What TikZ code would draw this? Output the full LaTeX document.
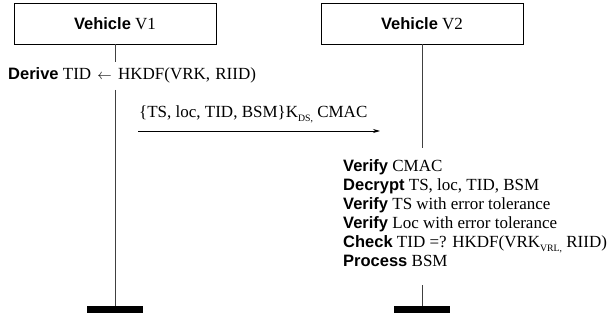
\documentclass[tikz,border=0pt]{standalone}
\usepackage{fontspec}
\setmainfont[Scale=1.03]{Liberation Serif}
\setsansfont{Liberation Sans}
\usetikzlibrary{arrows.meta}
\newcommand{\kw}[1]{{\sffamily\bfseries #1}}
\newcommand{\lowsub}[1]{\raisebox{-0.55ex}{\fontsize{9.5}{10}\selectfont #1}}
\begin{document}
\begin{tikzpicture}[x=1pt,y=-1pt,
  actor/.style={draw, line width=0.8pt, minimum width=202pt, minimum height=41pt, inner sep=0pt, font=\fontsize{16.5}{19}\selectfont},
  life/.style={draw=black!75, line width=0.9pt},
  endbar/.style={fill=black, minimum width=56pt, minimum height=7pt, inner sep=0pt},
  txt/.style={inner sep=0pt, font=\fontsize{16.5}{19}\selectfont},
  msg/.style={-{Stealth[length=7pt,width=4pt]}, line width=0.7pt}]
\useasboundingbox (0,0) rectangle (607,320);
% actors
\node[actor] (v1) at (115,23.5) {\kw{Vehicle} V1};
\node[actor] (v2) at (422,23.5) {\kw{Vehicle} V2};
% V1 lifeline
\coordinate (v1a) at (115,62);
\coordinate (v1b) at (115,90);
\node[endbar] (v1end) at (115,309.5) {};
\draw[life] (v1.south) -- (v1a);
\node[txt, anchor=west] (derive) at (8,75) {\kw{Derive} TID\hspace{2pt} {\fontsize{15}{15}\selectfont$\leftarrow$}\hspace{2pt} HKDF(VRK,\hspace{1pt} RIID)};
\draw[life] (v1b) -- (v1end.north);
% message
\coordinate (ms) at (138,131);
\coordinate (me) at (380,131);
\draw[msg] (ms) -- (me);
\node[txt, anchor=south west] (mlabel) at (139,123) {\{TS, loc, TID, BSM\}K\lowsub{DS,} CMAC};
% V2 lifeline
\coordinate (v2a) at (422,148);
\coordinate (v2b) at (422,285);
\node[endbar] (v2end) at (422,309.5) {};
\draw[life] (v2.south) -- (v2a);
\node[txt, anchor=north west, align=left] (proc) at (343,159) {\kw{Verify} CMAC\\
\kw{Decrypt} TS, loc, TID, BSM\\
\kw{Verify} TS with error tolerance\\
\kw{Verify} Loc with error tolerance\\
\kw{Check} TID =? HKDF(VRK\lowsub{VRL,} RIID)\\
\kw{Process} BSM};
\draw[life] (v2b) -- (v2end.north);
\end{tikzpicture}
\end{document}
